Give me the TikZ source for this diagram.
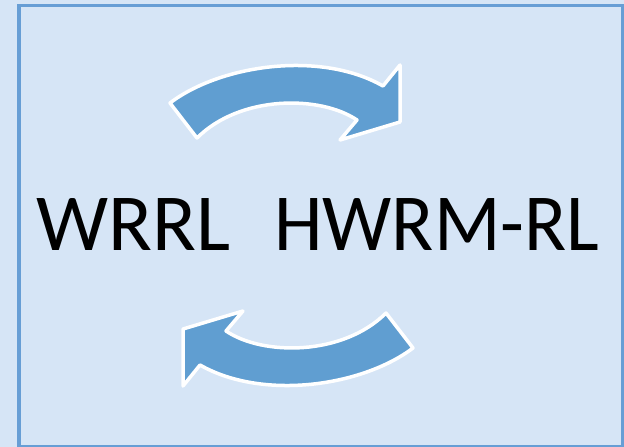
\documentclass[tikz,border=0pt]{standalone}
\usepackage{fontspec}
\setmainfont{Carlito}
\usepackage{tikz}
\usetikzlibrary{positioning}
\definecolor{bgblue}{RGB}{214,229,246}
\definecolor{frameblue}{RGB}{103,158,213}
\definecolor{arrowblue}{RGB}{96,158,209}

\begin{document}
\begin{tikzpicture}[x=1pt, y=-1pt,
  label/.style={anchor=base west, inner sep=0pt, text=black,
                font=\fontsize{81}{81}\selectfont},
  curvarrow/.style={fill=arrowblue, draw=white, line width=3.5pt, line join=round}]
  \useasboundingbox (0,0) rectangle (624,447);
  % background and frame
  \fill[bgblue] (0,0) rectangle (624,447);
  \draw[frameblue, line width=3.5pt] (19,5.5) rectangle (623,447);

  % top arrow, pointing right
  \path[curvarrow] (170,103) .. controls (220,65) and (320,50) .. (383,86)
    -- (400,65) -- (400,122) -- (340,140) -- (357,120)
    .. controls (320,95) and (240,95) .. (197,138) -- cycle;

  % bottom arrow, pointing left
  \path[curvarrow] (413,348) .. controls (363,386) and (263,401) .. (200,365)
    -- (183,386) -- (183,329) -- (243,311) -- (226,331)
    .. controls (263,356) and (343,356) .. (386,313) -- cycle;

  % labels
  \node[label] (wrrl) at (36.5,250) {WRRL};
  \node[label, xscale=0.96, transform shape] (hwrm) at (274,250) {HWRM-RL};
\end{tikzpicture}
\end{document}
